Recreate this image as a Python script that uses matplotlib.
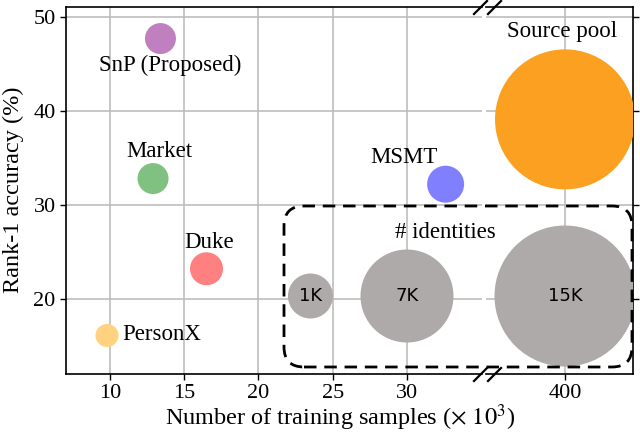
import matplotlib
matplotlib.use("Agg")
import matplotlib.pyplot as plt
from matplotlib.patches import FancyBboxPatch
from matplotlib.lines import Line2D
from matplotlib.transforms import IdentityTransform

# ---- data (training samples in 1e3, rank-1 %) ----
names = ["SnP (Proposed)", "Market", "MSMT", "Duke", "PersonX"]
samples = [13.4, 12.9, 32.6, 16.5, 9.8]
rank1 = [47.7, 32.8, 32.2, 23.2, 16.1]
dot_diam = [31, 31, 37, 33, 23]  # pixels
colors = ["#c080c0", "#80c080", "#8080ff", "#ff8080", "#ffd280"]

pool_samples = 400
pool_rank1 = 39.1
pool_diam = 140

id_labels = ["1K", "7K", "15K"]
id_x = [23.5, 30.0, 400.0]
id_y = [20.3, 20.3, 20.3]
id_diam = [45, 93, 141]

W, H = 640, 434
plt.rcParams["font.family"] = ["Liberation Serif", "DejaVu Serif"]
plt.rcParams["mathtext.fontset"] = "stix"


def s_of(d):
    return (d * 0.72) ** 2


def px(x, y):
    return x / W, 1 - y / H


fig = plt.figure(figsize=(W / 100, H / 100), dpi=100)
ax = fig.add_axes([66 / W, 1 - 374 / H, (482 - 66) / W, (374 - 7) / H])
ax2 = fig.add_axes([486 / W, 1 - 374 / H, (633 - 486) / W, (374 - 7) / H])
ax2.patch.set_alpha(0)

ylim = (12.0, 51.06)
for a in (ax, ax2):
    a.set_ylim(*ylim)
    a.grid(True, color="#bdbdbd", lw=1.2, zorder=0)
    a.set_axisbelow(True)
    a.tick_params(labelsize=16, direction="out", length=4, width=1)
    for sp in a.spines.values():
        sp.set_linewidth(1.2)

ax.set_xlim(7.04, 35.05)
ax.set_xticks([10, 15, 20, 25, 30])
ax.set_yticks([20, 30, 40, 50])
ax.spines["right"].set_visible(False)

ax2.set_xlim(384.2, 413.6)
ax2.set_xticks([400])
ax2.set_yticks([20, 30, 40, 50])
ax2.spines["left"].set_visible(False)
ax2.yaxis.tick_right()
ax2.tick_params(axis="y", labelright=False)

# datasets
ax.scatter(samples, rank1, s=[s_of(d) for d in dot_diam], c=colors,
           edgecolors="none", zorder=3)
ax2.scatter([pool_samples], [pool_rank1], s=s_of(pool_diam), c="#fca022",
            edgecolors="none", zorder=3)

# identity bubbles
for lab, x, y, d in zip(id_labels, id_x, id_y, id_diam):
    a = ax2 if x > 100 else ax
    a.scatter([x], [y], s=s_of(d), c="#aeaaa9", edgecolors="none", zorder=3)
    a.text(x, y, lab, ha="center", va="center", fontsize=13,
           family="DejaVu Sans", zorder=4)

fs = 16.5
ax.text(14.04, 44.8, "SnP (Proposed)", ha="center", va="center", fontsize=fs)
ax.text(13.3, 35.7, "Market", ha="center", va="center", fontsize=fs)
ax.text(29.8, 35.0, "MSMT", ha="center", va="center", fontsize=fs)
ax.text(16.7, 26.0, "Duke", ha="center", va="center", fontsize=fs)
ax.text(10.8, 16.2, "PersonX", ha="left", va="center", fontsize=fs)
ax2.text(399.4, 48.4, "Source pool", ha="center", va="center", fontsize=fs)
fig.text(445 / W, 1 - 232 / H, "# identities", ha="center", va="center",
         fontsize=fs, zorder=6)

# dashed rounded box around the identity legend (pixel coords)
box = FancyBboxPatch((284, H - 367), 632 - 284, 367 - 206,
                     boxstyle="round,pad=0,rounding_size=20",
                     transform=IdentityTransform(), fill=False, ec="black",
                     lw=2, ls=(0, (4.5, 2.8)), zorder=5)
fig.patches.append(box)

# axis break marks
for yy in (7, 374):
    for xa in (474, 488):
        (ax_, ay_) = px(xa, yy + 7)
        (bx_, by_) = px(xa + 13, yy - 6)
        fig.lines.append(Line2D([ax_, bx_], [ay_, by_], transform=fig.transFigure,
                                color="black", lw=1.6))

fig.text(340 / W, 1 - 418 / H, r"Number of training samples ($\times\ 10^3$)",
         ha="center", va="center", fontsize=17.5)
fig.text(13 / W, 1 - 190 / H, "Rank-1 accuracy (%)", ha="center", va="center",
         rotation=90, fontsize=17.5)

fig.savefig("out.png", dpi=100)
